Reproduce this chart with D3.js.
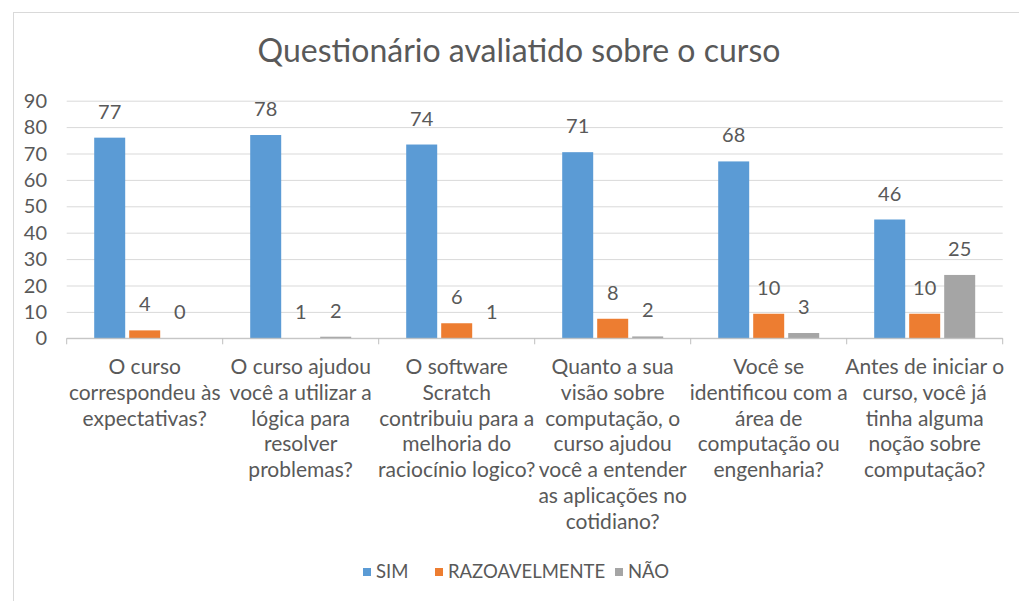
<!DOCTYPE html>
<html>
<head>
<meta charset="utf-8">
<script src="https://cdn.jsdelivr.net/npm/d3@7"></script>
<style>
  html, body { margin: 0; padding: 0; background: #fff; }
  svg { display: block; font-family: Lato, "Open Sans", sans-serif; }
</style>
</head>
<body>
<svg id="chart" width="1019" height="601"></svg>
<script>
// chart data
var categories = [
	['O curso', 'correspondeu às', 'expectativas?'],
	['O curso ajudou', 'você a utilizar a', 'lógica para', 'resolver', 'problemas?'],
	['O software', 'Scratch', 'contribuiu para a', 'melhoria do', 'raciocínio logico?'],
	['Quanto a sua', 'visão sobre', 'computação, o', 'curso ajudou', 'você a entender', 'as aplicações no', 'cotidiano?'],
	['Você se', 'identificou com a', 'área de', 'computação ou', 'engenharia?'],
	['Antes de iniciar o', 'curso, você já', 'tinha alguma', 'noção sobre', 'computação?']
];
var seriesNames = ['SIM', 'RAZOAVELMENTE', 'NÃO'];
var seriesColors = ['#5b9bd5', '#ed7d31', '#a5a5a5'];

// printed data labels
var simLabels = [77, 78, 74, 71, 68, 46];
var razLabels = [4, 1, 6, 8, 10, 10];
var naoLabels = [0, 2, 1, 2, 3, 25];

// bar heights as drawn (they sit a bit below the printed labels)
var simBars = [76, 77, 73.4, 70.5, 67, 45];
var razBars = [3, 0, 5.7, 7.4, 9.3, 9.3];
var naoBars = [0, 0.6, 0, 0.7, 2, 24];

var yTicks = [0, 10, 20, 30, 40, 50, 60, 70, 80, 90];
var title = 'Questionário avaliatido sobre o curso';

var svg = d3.select('#chart');
var textColor = '#595959';

// chart border
svg.append('rect')
	.attr('x', 13.5).attr('y', 12.5)
	.attr('width', 1019).attr('height', 601)
	.attr('fill', 'none')
	.attr('stroke', '#d9d9d9');

svg.append('text')
	.attr('x', 519).attr('y', 62)
	.attr('text-anchor', 'middle')
	.attr('font-size', 32)
	.attr('fill', textColor)
	.text(title);

var plotLeft = 66.7, plotRight = 1002.7, plotTop = 100.7, plotBottom = 338.3;

var x = d3.scaleBand()
	.domain(d3.range(categories.length))
	.range([plotLeft, plotRight]);

var x1 = d3.scaleBand()
	.domain(d3.range(seriesNames.length))
	.range([27.5, 128.5])
	.paddingInner(4 / 35);

var y = d3.scaleLinear()
	.domain([0, 90])
	.range([plotBottom, plotTop]);

// gridlines
var grid = svg.append('g')
	.attr('transform', 'translate(' + plotLeft + ',0)')
	.call(d3.axisRight(y).tickValues(yTicks).tickSize(plotRight - plotLeft).tickFormat(''));
grid.select('.domain').remove();
grid.selectAll('.tick line').attr('stroke', '#d9d9d9');

// y tick labels
svg.append('g').selectAll('text')
	.data(yTicks)
	.enter().append('text')
	.attr('x', 47)
	.attr('y', function (d) { return y(d); })
	.attr('dy', '0.35em')
	.attr('text-anchor', 'end')
	.attr('font-size', 20)
	.attr('fill', textColor)
	.text(function (d) { return d; });

var bars = [simBars, razBars, naoBars];
var labels = [simLabels, razLabels, naoLabels];

var groups = svg.append('g').selectAll('g')
	.data(categories)
	.enter().append('g')
	.attr('transform', function (d, i) { return 'translate(' + x(i) + ',0)'; });

groups.each(function (cat, i) {
	var g = d3.select(this);
	seriesNames.forEach(function (s, k) {
		var v = bars[k][i];
		g.append('rect')
			.attr('x', x1(k))
			.attr('y', y(v))
			.attr('width', x1.bandwidth())
			.attr('height', plotBottom - y(v))
			.attr('fill', seriesColors[k]);
		g.append('text')
			.attr('x', x1(k) + x1.bandwidth() / 2)
			.attr('y', y(v) - 19)
			.attr('text-anchor', 'middle')
			.attr('font-size', 20)
			.attr('fill', textColor)
			.text(labels[k][i]);
	});
});

// x axis line and boundary ticks
svg.append('line')
	.attr('x1', plotLeft).attr('x2', plotRight)
	.attr('y1', plotBottom).attr('y2', plotBottom)
	.attr('stroke', '#bfbfbf');
var bounds = x.domain().map(function (d) { return x(d); }).concat([plotRight]);
svg.append('g').selectAll('line')
	.data(bounds)
	.enter().append('line')
	.attr('x1', function (d) { return d; }).attr('x2', function (d) { return d; })
	.attr('y1', plotBottom).attr('y2', plotBottom + 6)
	.attr('stroke', '#bfbfbf');

// category labels
svg.append('g').selectAll('text')
	.data(categories)
	.enter().append('text')
	.attr('text-anchor', 'middle')
	.attr('font-size', 21)
	.attr('fill', textColor)
	.each(function (lines, i) {
		var t = d3.select(this);
		lines.forEach(function (line, j) {
			t.append('tspan')
				.attr('x', x(i) + x.bandwidth() / 2)
				.attr('y', 374 + j * 25.8)
				.text(line);
		});
	});

// legend
var legendX = [363, 435, 615];
var legend = svg.append('g').selectAll('g')
	.data(seriesNames)
	.enter().append('g')
	.attr('transform', function (d, i) { return 'translate(' + legendX[i] + ',572)'; });
legend.append('rect')
	.attr('x', 0).attr('y', -4)
	.attr('width', 8).attr('height', 8)
	.attr('fill', function (d, i) { return seriesColors[i]; });
legend.append('text')
	.attr('x', 13).attr('dy', '0.35em')
	.attr('font-size', 18.5)
	.attr('fill', textColor)
	.text(function (d) { return d; });
</script>
</body>
</html>
